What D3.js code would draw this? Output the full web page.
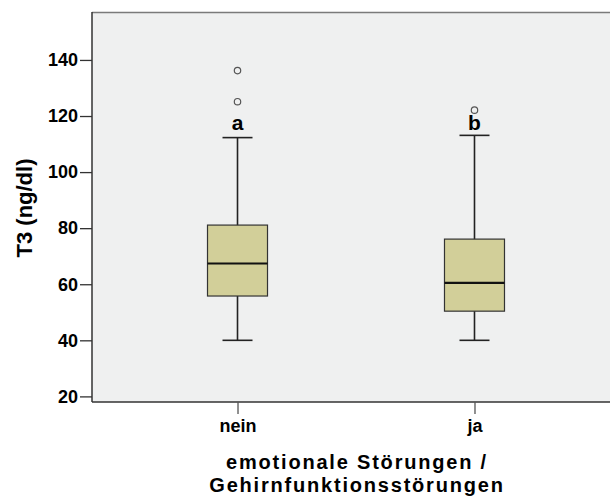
<!DOCTYPE html>
<html>
<head>
<meta charset="utf-8">
<script src="https://cdn.jsdelivr.net/npm/d3@7"></script>
<style>
  body { margin: 0; background: #fff; }
  text { font-family: "Liberation Sans", Arial, sans-serif; fill: #000; }
</style>
</head>
<body>
<div id="chart"></div>
<script>
var width = 610;
var height = 497;

// values
var categories = ["nein", "ja"];
var q1 = [55.8, 50.4];
var median = [67.4, 60.5];
var q3 = [81.1, 76.1];
var whiskerLow = [40, 40];
var whiskerHigh = [112.3, 113.1];
var outliers = [[125.1, 136.2], [122.1]];
var groupLabels = ["a", "b"];
var yTicks = [20, 40, 60, 80, 100, 120, 140];

var plot = {left: 92, top: 12, right: 620, bottom: 402};

var svg = d3.select("#chart").append("svg").attr("width", width).attr("height", height);

var y = d3.scaleLinear().domain([18, 157.1]).range([plot.bottom, plot.top]);
var x = d3.scalePoint().domain(categories).range([plot.left, plot.right]).padding(0.614);

var boxW = 60, capW = 30;

// plot background
svg.append("rect")
    .attr("x", plot.left).attr("y", plot.top)
    .attr("width", plot.right - plot.left).attr("height", plot.bottom - plot.top)
    .attr("fill", "#eff0f0");
svg.append("line")
    .attr("x1", plot.left).attr("x2", plot.right)
    .attr("y1", plot.top + 0.5).attr("y2", plot.top + 0.5)
    .attr("stroke", "#7a7a7a").attr("stroke-width", 1.5);

// y axis
var yAxis = d3.axisLeft(y).tickValues(yTicks).tickSize(12).tickPadding(2);
var gy = svg.append("g").attr("transform", "translate(" + plot.left + ",0)").call(yAxis);
gy.select(".domain").attr("stroke", "#333").attr("stroke-width", 1.5)
    .attr("d", "M0," + plot.top + "V" + plot.bottom);
gy.selectAll(".tick line").attr("stroke", "#333").attr("stroke-width", 1.3);
gy.selectAll(".tick text").attr("font-size", 18).attr("font-weight", "bold")
    .attr("font-family", "Liberation Sans, Arial, sans-serif").attr("fill", "#000");

// x axis
var xAxis = d3.axisBottom(x).tickSize(12).tickPadding(5);
var gx = svg.append("g").attr("transform", "translate(0," + plot.bottom + ")").call(xAxis);
gx.select(".domain").attr("stroke", "#333").attr("stroke-width", 1.5)
    .attr("d", "M" + plot.left + ",0H" + plot.right);
gx.selectAll(".tick line").attr("stroke", "#555").attr("stroke-width", 1.3);
gx.selectAll(".tick text").attr("font-size", 18).attr("font-weight", "bold")
    .attr("font-family", "Liberation Sans, Arial, sans-serif").attr("fill", "#000");

// boxes
var g = svg.selectAll("g.box").data(categories).enter().append("g").attr("class", "box");

g.append("line")
    .attr("x1", function(d) { return x(d); }).attr("x2", function(d) { return x(d); })
    .attr("y1", function(d, i) { return y(whiskerHigh[i]); })
    .attr("y2", function(d, i) { return y(whiskerLow[i]); })
    .attr("stroke", "#222").attr("stroke-width", 1.6);

g.append("line")
    .attr("x1", function(d) { return x(d) - capW / 2; }).attr("x2", function(d) { return x(d) + capW / 2; })
    .attr("y1", function(d, i) { return y(whiskerHigh[i]); })
    .attr("y2", function(d, i) { return y(whiskerHigh[i]); })
    .attr("stroke", "#222").attr("stroke-width", 1.6);

g.append("line")
    .attr("x1", function(d) { return x(d) - capW / 2; }).attr("x2", function(d) { return x(d) + capW / 2; })
    .attr("y1", function(d, i) { return y(whiskerLow[i]); })
    .attr("y2", function(d, i) { return y(whiskerLow[i]); })
    .attr("stroke", "#222").attr("stroke-width", 1.6);

g.append("rect")
    .attr("x", function(d) { return x(d) - boxW / 2; })
    .attr("y", function(d, i) { return y(q3[i]); })
    .attr("width", boxW)
    .attr("height", function(d, i) { return y(q1[i]) - y(q3[i]); })
    .attr("fill", "#d2cf99").attr("stroke", "#333").attr("stroke-width", 1.2);

g.append("line")
    .attr("x1", function(d) { return x(d) - boxW / 2; }).attr("x2", function(d) { return x(d) + boxW / 2; })
    .attr("y1", function(d, i) { return y(median[i]); })
    .attr("y2", function(d, i) { return y(median[i]); })
    .attr("stroke", "#111").attr("stroke-width", 2.2);

g.each(function(d, i) {
    d3.select(this).selectAll("circle").data(outliers[i]).enter().append("circle")
        .attr("cx", x(d)).attr("cy", function(v) { return y(v); }).attr("r", 3.2)
        .attr("fill", "none").attr("stroke", "#555").attr("stroke-width", 1.2);
});

g.append("text")
    .attr("x", function(d) { return x(d); })
    .attr("y", y(115))
    .attr("text-anchor", "middle")
    .attr("font-size", 21).attr("font-weight", "bold")
    .text(function(d, i) { return groupLabels[i]; });

// axis titles
svg.append("text")
    .attr("transform", "translate(32,208) rotate(-90)")
    .attr("text-anchor", "middle")
    .attr("font-size", 22).attr("font-weight", "bold")
    .text("T3 (ng/dl)");

var title = svg.append("text").attr("text-anchor", "middle")
    .attr("font-size", 20).attr("font-weight", "bold").attr("letter-spacing", 1.8);
title.append("tspan").attr("x", 357).attr("y", 469).text("emotionale Störungen /");
title.append("tspan").attr("x", 357).attr("y", 492).text("Gehirnfunktionsstörungen");
</script>
</body>
</html>
